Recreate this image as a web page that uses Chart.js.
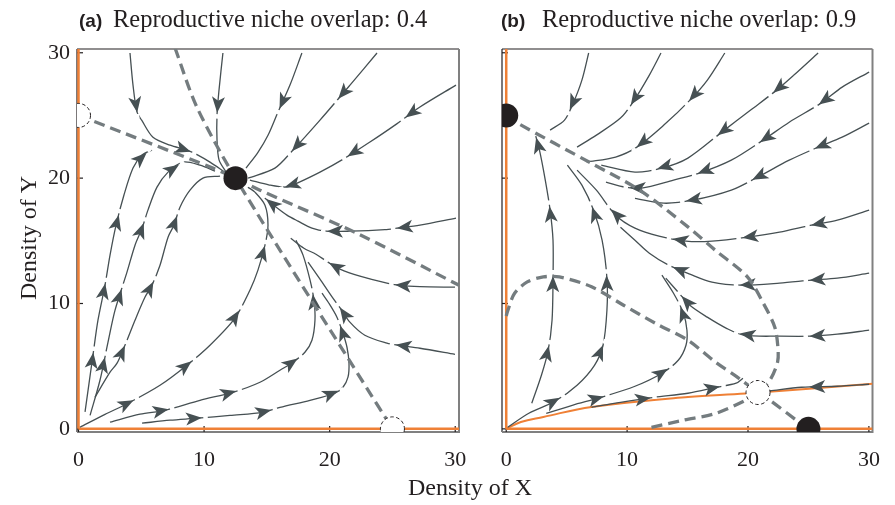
<!DOCTYPE html>
<html>
<head>
<meta charset="utf-8">
<script src="https://cdn.jsdelivr.net/npm/chart.js@4.4.0/dist/chart.umd.min.js"></script>
<style>
  body { margin: 0; background: #fff; }
  #wrap { position: relative; width: 895px; height: 505px; }
  canvas { position: absolute; left: 0; top: 0; }
</style>
</head>
<body>
<div id="wrap">
  <canvas id="chartA" width="895" height="505"></canvas>
  <canvas id="chartB" width="895" height="505"></canvas>
</div>
<script>
const axisTicks = [0, 10, 20, 30];
const panelLabels = ['(a)', '(b)'];
const panelTitles = ['Reproductive niche overlap: 0.4', 'Reproductive niche overlap: 0.9'];
const xTitle = 'Density of X';
const yTitle = 'Density of Y';

// zero isoclines on the axes (both panels)
const axisLineV = [[0, 0], [0, 30.3]];
const axisLineH = [[0, 0], [30.3, 0]];

// ---- panel (a) ----
const aStable = [[12.5, 20]];
const aUnstable = [[0, 25], [25, 0]];
const aNull1 = [[0, 25], [1.05, 24.6], [10.7, 20.8], [12.5, 20], [14.45, 19.04], [22.17, 15.6], [30.3, 11.46]];
const aNull2 = [[7.68, 30.4], [9.41, 25.7], [12.5, 20], [25, 0]];

const aS1 = [[4.10, 29.98], [4.34, 27.42], [4.66, 25.26], [5.03, 24.62], [5.93, 23.26], [7.29, 22.63], [8.64, 22.23], [9.51, 21.84], [10.47, 21.28], [11.66, 20.48]];
const aS2 = [[11.5, 29.98], [11.19, 27.04], [11.03, 25.05], [11.03, 23.05], [11.19, 21.46], [11.74, 20.5]];
const aS3 = [[17.79, 29.98], [16.84, 27.42], [15.88, 25.26], [15.09, 23.42], [14.29, 22.06], [13.34, 20.8]];
const aS4 = [[23.77, 29.98], [21.62, 27.42], [19.23, 24.63], [17.08, 22.24], [15.64, 20.8], [13.5, 20.0]];
const aS5 = [[30.06, 27.42], [27.19, 25.67], [25.2, 24.23], [23.21, 22.88], [21.22, 21.6], [19.23, 20.48], [17.37, 19.58], [16.6, 19.28], [15.2, 19.45], [13.65, 19.84]];
const aS6 = [[30.06, 16.81], [27.19, 16.25], [25.36, 16.01], [24.4, 15.89], [21.62, 15.77], [19.71, 15.77], [18.59, 16.01], [17.48, 16.57], [16.6, 17.05], [15.64, 17.76], [14.6, 18.6]];
const aS7 = [[29.98, 11.3], [27.19, 11.34], [25.44, 11.46], [24.56, 11.62], [22.41, 12.18], [20.82, 12.74], [19.86, 13.3], [18.91, 13.93], [17.95, 14.41], [16.9, 15.2]];
const aS8 = [[29.98, 5.95], [27.19, 6.43], [25.44, 6.67], [24.56, 6.83], [22.8, 7.47], [21.61, 8.51], [20.9, 9.55], [20.26, 10.42], [19.23, 11.94], [18.28, 13.3]];
const aS9 = [[0.52, 1.35], [1.15, 5.87], [1.55, 8.67], [2.11, 11.46], [2.51, 13.86], [2.99, 16.25], [3.62, 18.65], [4.34, 20.8], [5.06, 21.84], [5.85, 22.24]];
const aS10 = [[0.92, 1.08], [1.71, 3.88], [2.35, 6.91], [2.91, 9.47], [3.86, 12.5], [4.5, 14.65], [5.06, 16.0], [5.53, 17.45], [6.25, 19.28], [7.13, 20.48], [8.32, 21.28], [9.67, 21.04], [10.87, 20.56]];
const aS11 = [[1.31, 2.52], [2.51, 4.52], [3.07, 5.24], [3.7, 6.67], [4.5, 8.67], [5.29, 10.5], [5.85, 11.46], [6.49, 13.05], [7.13, 15.29], [7.6, 16.25], [8.08, 17.68], [8.88, 19.04], [9.91, 20.0], [11.27, 20.16]];
const aS12 = [[0.12, 0.13], [2.11, 1.16], [3.94, 2.04], [6.49, 3.48], [8.64, 5.08], [10.47, 6.67], [12.46, 8.83], [13.65, 11.06], [14.29, 12.66], [14.85, 14.65], [15.09, 16.25], [14.85, 17.84], [14.05, 18.88], [13.49, 19.28]];
const aS13 = [[2.51, 0.53], [4.9, 1.17], [6.89, 1.48], [9.67, 2.28], [12.3, 2.92], [14.45, 3.72], [16.04, 4.68], [17.08, 5.32], [18.03, 6.11], [18.59, 7.07], [18.83, 8.67], [18.75, 10.26], [18.44, 11.86], [17.88, 13.86], [17.32, 15.05]];
const aS14 = [[5.06, 0.45], [7.29, 0.69], [9.51, 0.85], [12.06, 1.08], [14.69, 1.32], [16.04, 1.72], [18.43, 2.28], [20.42, 2.84], [21.06, 3.32], [21.46, 4.12], [21.54, 5.24], [21.38, 6.51], [21.06, 7.63], [20.58, 8.91], [19.94, 10.02], [19.39, 10.82]];
const aStreams = [aS1, aS2, aS3, aS4, aS5, aS6, aS7, aS8, aS9, aS10, aS11, aS12, aS13, aS14];

// ---- panel (b) ----
const bStable = [[0, 25], [25, 0]];
const bUnstable = [[20.83, 2.9]];
const bOrangeCurve = [[0, 0], [1.21, 0.55], [3.07, 0.95], [7.06, 1.75], [15.03, 2.55], [19.82, 2.82], [30.3, 3.6]];
const bNull1 = [[0, 25], [0.92, 24.4], [7.06, 21.17], [11.04, 19.04], [15.03, 16.11], [17.29, 14.25], [19.95, 12.12], [21.28, 10.0], [22.21, 8.13], [22.47, 6.54], [22.45, 5.34], [21.81, 3.88], [20.83, 2.9]];
const bNull2 = [[0, 9.0], [0.14, 9.47], [0.68, 10.8], [1.74, 11.72], [3.07, 12.12], [4.4, 12.12], [7.06, 11.33], [9.71, 9.86], [12.38, 8.4], [15.03, 7.07], [17.29, 5.34], [19.28, 4.01], [20.83, 2.9], [21.81, 2.28], [24.2, 0.55], [25, 0]];
const bNull3 = [[20.83, 2.9], [19.82, 2.28], [17.29, 1.22], [14.63, 0.69], [11.58, 0.02]];

const bS1 = [[6.82, 29.98], [6.26, 27.82], [5.54, 25.99], [4.82, 24.63], [3.63, 23.83]];
const bS2 = [[12.8, 29.98], [11.84, 28.22], [10.49, 26.07], [9.45, 24.79], [7.46, 23.43], [5.86, 22.47]];
const bS3 = [[18.08, 29.98], [16.64, 27.82], [15.2, 26.22], [13.04, 24.23], [10.81, 22.47], [9.05, 21.68], [6.66, 21.28]];
const bS4 = [[25.8, 29.98], [23.8, 28.22], [22.37, 27.02], [20.22, 25.43], [17.83, 23.67], [15.03, 21.6], [12.88, 20.8], [10.65, 20.48], [7.86, 21.03]];
const bS5 = [[30.02, 28.46], [27.79, 27.26], [26.04, 25.98], [23.41, 24.46], [21.25, 23.03], [18.62, 21.43], [15.99, 20.4], [13.84, 19.84], [11.2, 19.2], [9.85, 19.28], [8.25, 19.68]];
const bS6 = [[30.02, 24.39], [27.79, 23.27], [25.8, 22.47], [23.41, 21.43], [20.78, 20.07], [18.62, 19.04], [15.43, 18.24], [13.04, 18.0], [10.65, 18.39]];
const bS7 = [[30.02, 17.45], [27.39, 16.65], [25.24, 16.25], [22.61, 15.69], [19.97, 15.29], [17.02, 14.97], [14.87, 14.97], [12.64, 15.37], [10.65, 16.01], [9.05, 17.04], [7.46, 19.04], [5.86, 20.64]];
const bS8 = [[30.02, 12.42], [27.39, 12.02], [25.24, 11.86], [22.61, 11.62], [19.42, 11.46], [17.02, 11.7], [15.19, 12.34], [13.43, 13.06], [11.84, 14.01], [10.65, 15.05], [9.45, 16.09]];
const bS9 = [[30.02, 7.87], [27.39, 7.55], [25.24, 7.39], [22.61, 7.39], [19.66, 7.47], [18.22, 8.02], [16.63, 8.91], [15.19, 9.86], [14.23, 10.9], [13.2, 12.02]];
const bS10 = [[30.02, 3.56], [27.39, 3.4], [24.44, 3.32], [21.81, 3.02]];
const bT1 = [[2.11, 2.04], [2.91, 4.28], [3.47, 6.27], [3.79, 8.67], [3.87, 11.86], [3.87, 15.05], [3.63, 17.45], [3.23, 19.84], [2.75, 22.23], [2.35, 23.67]];
const bT2 = [[0.12, 0.13], [1.87, 1.25], [4.03, 2.2], [5.86, 3.48], [7.3, 5.07], [8.01, 6.67], [8.33, 9.46], [8.33, 12.02], [7.93, 15.05], [7.22, 17.45], [6.26, 19.44], [5.06, 21.04]];
const bT3 = [[3.31, 1.24], [5.46, 1.88], [7.85, 2.52], [10.65, 3.4], [12.88, 4.44], [14.23, 5.47], [14.87, 6.67], [14.95, 7.87], [14.63, 9.3], [13.84, 10.82], [12.88, 12.26]];
const bT4 = [[7.06, 1.72], [9.45, 2.12], [12.24, 2.52], [15.03, 2.84], [17.42, 3.32], [19.02, 3.64], [19.58, 4.04]];
const bStreams = [bS1, bS2, bS3, bS4, bS5, bS6, bS7, bS8, bS9, bT1, bT2, bT3, bT4];

const STREAM = '#465053';
const NULLC = '#747c7f';
const ORANGE = '#ef8036';
const INK = '#231f20';
const SERIF = "'Liberation Serif', 'Times New Roman', serif";

const toXY = pts => pts.map(p => ({ x: p[0], y: p[1] }));

function streamSet(pts, gap = true) {
  return {
    data: toXY(pts), showLine: true, borderColor: STREAM, borderWidth: 1.3,
    pointRadius: 0, tension: 0.3, order: 3, arrows: true, arrowGap: gap
  };
}

function nullSet(pts) {
  return {
    data: toXY(pts), showLine: true, borderColor: NULLC, borderWidth: 3.3,
    borderDash: [11, 6], pointRadius: 0, tension: 0.3, order: 2
  };
}

function orangeSet(pts, width) {
  return {
    data: toXY(pts), showLine: true, borderColor: ORANGE, borderWidth: width,
    pointRadius: 0, tension: 0.4, order: 4
  };
}

function nodeSet(pts) {
  return {
    data: toXY(pts), showLine: false, pointRadius: 12, pointBackgroundColor: INK,
    pointBorderWidth: 0, clip: 0, order: 1
  };
}

// arrowheads along each streamline, spaced by path length
const arrowPlugin = {
  id: 'arrows',
  afterDatasetDraw(chart, args) {
    const ds = chart.data.datasets[args.index];
    if (!ds.arrows) return;
    const pts = args.meta.data.map(p => ({ x: p.x, y: p.y }));
    const cum = [0];
    for (let i = 1; i < pts.length; i++) {
      cum.push(cum[i - 1] + Math.hypot(pts[i].x - pts[i - 1].x, pts[i].y - pts[i - 1].y));
    }
    const total = cum[cum.length - 1];
    const at = d => {
      d = Math.max(0, Math.min(total, d));
      let i = 0;
      while (i < cum.length - 2 && cum[i + 1] < d) i++;
      const seg = cum[i + 1] - cum[i] || 1;
      const t = (d - cum[i]) / seg;
      return { x: pts[i].x + (pts[i + 1].x - pts[i].x) * t, y: pts[i].y + (pts[i + 1].y - pts[i].y) * t };
    };
    const { ctx, chartArea: a } = chart;
    ctx.save();
    ctx.beginPath();
    ctx.rect(a.left, a.top, a.width, a.height);
    ctx.clip();
    for (let d = 60; d < total - 4; d += 70) {
      const tip = at(d);
      const back = at(d - 12);
      let ux = tip.x - back.x, uy = tip.y - back.y;
      const len = Math.hypot(ux, uy) || 1;
      ux /= len; uy /= len;
      const nx = -uy, ny = ux;
      if (ds.arrowGap) {
        ctx.strokeStyle = '#fff';
        ctx.lineWidth = 3;
        ctx.beginPath();
        ctx.moveTo(tip.x + ux * 1.5, tip.y + uy * 1.5);
        ctx.lineTo(tip.x + ux * 6, tip.y + uy * 6);
        ctx.stroke();
      }
      const L = 16, W = 6.5;
      const bx = tip.x - ux * L, by = tip.y - uy * L;
      ctx.fillStyle = STREAM;
      ctx.beginPath();
      ctx.moveTo(tip.x, tip.y);
      ctx.lineTo(bx + nx * W, by + ny * W);
      ctx.lineTo(tip.x - ux * (L - 4), tip.y - uy * (L - 4));
      ctx.lineTo(bx - nx * W, by - ny * W);
      ctx.closePath();
      ctx.fill();
    }
    ctx.restore();
  }
};

// frame and inward tick marks
const framePlugin = {
  id: 'frame',
  beforeDatasetsDraw(chart) {
    const { ctx, chartArea: a, scales: { x, y } } = chart;
    const seg = (x1, y1, x2, y2) => { ctx.beginPath(); ctx.moveTo(x1, y1); ctx.lineTo(x2, y2); ctx.stroke(); };
    ctx.save();
    ctx.strokeStyle = INK;
    ctx.lineWidth = 1.2;
    seg(a.left, a.top, a.right, a.top);
    seg(a.left, a.top, a.left, a.bottom);
    ctx.strokeStyle = '#808080';
    ctx.lineWidth = 2;
    seg(a.right, a.top, a.right, a.bottom + 1);
    seg(a.left, a.bottom, a.right, a.bottom);
    ctx.strokeStyle = INK;
    ctx.lineWidth = 1.2;
    axisTicks.forEach(v => {
      const px = x.getPixelForValue(v);
      seg(px, a.bottom, px, a.bottom - 6);
      const py = y.getPixelForValue(v);
      seg(a.left, py, a.left + 6, py);
    });
    ctx.restore();
  }
};

// dashed open circles for unstable equilibria
const saddlePlugin = {
  id: 'saddles',
  afterDatasetsDraw(chart, args, opts) {
    const { ctx, chartArea: a, scales: { x, y } } = chart;
    ctx.save();
    ctx.beginPath();
    ctx.rect(a.left, a.top, a.width, a.height);
    ctx.clip();
    opts.points.forEach(p => {
      ctx.beginPath();
      ctx.arc(x.getPixelForValue(p[0]), y.getPixelForValue(p[1]), 12, 0, Math.PI * 2);
      ctx.fillStyle = '#fff';
      ctx.fill();
      ctx.setLineDash([3.5, 2.5]);
      ctx.lineWidth = 1;
      ctx.strokeStyle = INK;
      ctx.stroke();
    });
    ctx.restore();
  }
};

// panel labels, titles and axis titles
const textPlugin = {
  id: 'panelText',
  afterDraw(chart, args, opts) {
    const ctx = chart.ctx;
    ctx.save();
    ctx.fillStyle = INK;
    ctx.textBaseline = 'alphabetic';
    ctx.textAlign = 'left';
    ctx.font = "bold 19px 'Liberation Sans', Arial, sans-serif";
    ctx.fillText(opts.label, opts.labelX, 27);
    ctx.font = '24.5px ' + SERIF;
    ctx.fillText(opts.title, opts.titleX, 27);
    if (opts.axisTitles) {
      ctx.font = '24px ' + SERIF;
      ctx.textAlign = 'center';
      ctx.textBaseline = 'middle';
      ctx.fillText(xTitle, 470, 489);
      ctx.translate(30, 238);
      ctx.rotate(-Math.PI / 2);
      ctx.fillText(yTitle, 0, 0);
    }
    ctx.restore();
  }
};

function makeScales(xMin, yShowLabels, yWidth) {
  const tickFont = { family: SERIF, size: 22 };
  return {
    x: {
      type: 'linear', min: xMin, max: 30.3,
      grid: { display: false, drawTicks: false }, border: { display: false },
      ticks: { font: tickFont, color: INK, padding: 15, maxRotation: 0, autoSkip: false },
      afterBuildTicks: s => { s.ticks = axisTicks.map(v => ({ value: v })); },
      afterFit: s => { s.height = 73; }
    },
    y: {
      type: 'linear', min: -0.25, max: 30.3,
      grid: { display: false, drawTicks: false }, border: { display: false },
      ticks: { display: yShowLabels, font: tickFont, color: INK, padding: 7, autoSkip: false },
      afterBuildTicks: s => { s.ticks = axisTicks.map(v => ({ value: v })); },
      afterFit: s => { s.width = yWidth; }
    }
  };
}

function makeChart(id, datasets, opts) {
  return new Chart(document.getElementById(id), {
    type: 'scatter',
    data: { datasets: datasets },
    options: {
      responsive: false,
      animation: false,
      events: [],
      layout: { padding: opts.padding },
      scales: makeScales(opts.xMin, opts.yLabels, opts.yWidth),
      plugins: {
        legend: { display: false },
        tooltip: { enabled: false },
        saddles: { points: opts.saddles },
        panelText: opts.text
      }
    },
    plugins: [framePlugin, arrowPlugin, saddlePlugin, textPlugin]
  });
}

makeChart('chartA', [
  orangeSet(axisLineV, 2.5),
  orangeSet(axisLineH, 2.5),
  ...aStreams.map(s => streamSet(s)),
  nullSet(aNull1),
  nullSet(aNull2),
  nodeSet(aStable)
], {
  padding: { top: 49, right: 436, bottom: 0, left: 0 },
  xMin: -0.12, yLabels: true, yWidth: 77,
  saddles: aUnstable,
  text: { label: panelLabels[0], labelX: 79, title: panelTitles[0], titleX: 113, axisTitles: true }
});

makeChart('chartB', [
  orangeSet(axisLineV, 2.5),
  orangeSet(axisLineH, 2.5),
  orangeSet(bOrangeCurve, 2),
  ...bStreams.map(s => streamSet(s)),
  streamSet(bS10, false),
  nullSet(bNull1),
  nullSet(bNull2),
  nullSet(bNull3),
  nodeSet(bStable)
], {
  padding: { top: 49, right: 9, bottom: 0, left: 502 },
  xMin: -0.35, yLabels: false, yWidth: 0,
  saddles: bUnstable,
  text: { label: panelLabels[1], labelX: 501, title: panelTitles[1], titleX: 542, axisTitles: false }
});
</script>
</body>
</html>
